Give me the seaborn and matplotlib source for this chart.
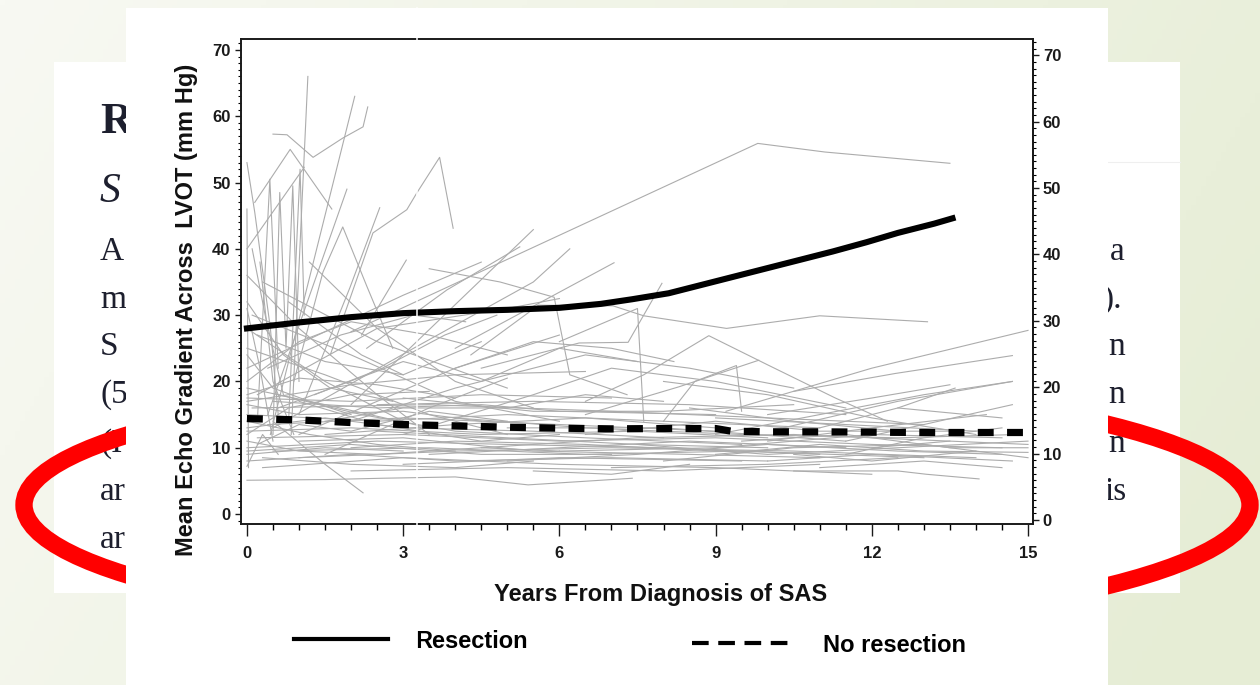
import numpy as np
import pandas as pd
import matplotlib
matplotlib.use("Agg")
import matplotlib.pyplot as plt
import seaborn as sns
from matplotlib.patches import Rectangle, Ellipse
from matplotlib.lines import Line2D
from matplotlib.ticker import MultipleLocator

# ---------------- data ----------------
res_years = [0, 1, 2, 3, 4, 5, 6, 6.8, 7.4, 8.1, 8.7, 9.3, 10, 10.6, 11.25, 11.9, 12.5, 13.2, 13.55]
res_grad = [28.0, 28.9, 29.7, 30.3, 30.6, 30.8, 31.1, 31.7, 32.4, 33.3, 34.5, 35.7, 37.1, 38.3, 39.6, 41.0, 42.4, 43.8, 44.6]

nores_years = [0, 1, 2, 3, 4, 5, 6, 7, 8, 9, 9.3, 10, 11, 12, 13, 14, 15]
nores_grad = [14.4, 14.2, 13.8, 13.5, 13.3, 13.1, 12.95, 12.85, 12.9, 12.9, 12.5, 12.4, 12.4, 12.35, 12.3, 12.3, 12.3]

# individual patient trajectories (years, gradient)
subject_paths = [
    [(0.85, 12), (1.17, 66)],
    [(0.45, 12), (2.07, 63)],
    [(0.5, 57.3), (0.77, 57.2), (1.27, 53.8), (1.84, 56.7), (2.23, 58.4), (2.32, 61.4)],
    [(0.15, 47), (0.83, 55), (1.63, 46)],
    [(0.0, 40), (1.1, 52.3)],
    [(0.0, 53), (0.15, 45.5), (0.45, 28), (0.6, 15)],
    [(0.0, 46), (0.03, 7)],
    [(0.2, 14), (0.44, 50.5), (0.6, 22)],
    [(0.5, 12), (0.63, 48.5), (0.75, 25), (0.88, 49.5), (1.0, 20)],
    [(0.8, 14), (1.02, 52), (1.1, 30)],
    [(0.4, 15), (1.92, 49)],
    [(1.0, 15), (1.98, 34.2), (2.55, 46.2)],
    [(0.9, 20), (1.46, 36.5), (1.84, 43.3), (2.3, 34.4), (2.8, 25)],
    [(1.6, 24), (2.42, 42.4), (3.07, 45.9), (3.26, 48.4), (3.7, 53.8), (3.96, 43.1)],
    [(2.3, 25), (3.84, 33.8), (5.24, 40.3)],
    [(2.2, 27), (3.06, 38.3)],
    [(2.0, 27.5), (4.86, 37.9), (9.81, 55.9), (11.1, 54.6), (13.5, 52.9)],
    [(2.0, 16.5), (5.5, 42.9)],
    [(4.0, 25), (7.05, 37.9)],
    [(4.3, 24), (5.6, 31.5), (7.03, 31.4), (7.62, 29.9), (9.21, 28), (11.0, 29.9), (13.07, 29)],
    [(9.2, 15.5), (12.0, 22), (15.0, 27.7)],
    [(10.5, 18.5), (12.45, 21.2), (14.7, 23.9)],
    [(10.3, 13), (12.5, 17), (14.7, 20)],
    [(6.5, 17), (7.62, 21), (8.87, 26.9), (10.0, 22.5), (11.3, 17.5), (12.3, 14)],
    [(8.0, 14), (8.6, 20), (9.4, 22.4), (9.5, 15.5)],
    [(6.0, 26), (7.5, 31), (7.62, 14)],
    [(4.5, 22), (6.38, 25.8), (7.32, 25.9), (7.97, 34.8)],
    [(6.5, 15), (8.3, 19.2), (9.83, 23.2)],
    [(3.5, 37), (4.86, 35), (5.9, 32.7), (6.2, 21), (7.3, 18)],
    [(0.0, 22), (3.0, 33), (4.5, 38)],
    [(0.2, 18), (2.5, 28), (5.0, 31), (6.0, 32.5)],
    [(0.5, 13), (3.2, 25), (5.5, 35), (6.2, 40)],
    [(1.0, 12), (4.0, 22), (6.0, 27)],
    [(0.0, 25), (1.5, 21), (3.5, 15), (5.0, 12)],
    [(0.1, 30), (2.0, 24), (4.0, 17), (6.0, 14)],
    [(0.3, 35), (2.5, 26), (5.0, 19)],
    [(0.0, 17), (2.0, 19.5), (4.0, 21), (6.5, 21.5)],
    [(0.6, 16), (3.0, 23), (4.5, 20), (6.0, 25), (7.5, 23)],
    [(2.0, 14), (4.0, 19), (6.5, 24), (8.5, 22), (10.5, 19)],
    [(3.0, 12), (5.5, 18), (7.0, 22), (9.0, 20), (11.5, 16)],
    [(1.5, 9), (3.5, 16), (5.0, 20.5)],
    [(0.0, 20), (1.0, 26), (2.0, 29), (3.5, 27), (5.0, 24)],
    [(4.0, 22), (5.5, 26), (7.0, 25), (8.2, 23)],
    [(0.0, 28), (1.5, 20), (3.0, 14)],
    [(0.0, 36), (1.0, 28), (2.5, 18), (3.5, 12)],
    [(1.2, 38), (2.5, 28), (4.0, 20), (5.5, 16)],
    [(0.8, 32), (2.2, 24), (3.0, 21)],
    [(9.0, 12), (11.0, 15), (13.0, 18), (14.7, 20)],
    [(10.0, 15), (12.0, 17.5), (13.5, 19.5)],
    [(11.0, 13), (12.5, 16), (13.6, 19)],
    [(12.5, 16), (14.5, 14.5)],
    [(8.0, 20), (10.0, 18), (12.0, 14.5), (14.0, 12)],
    [(10.0, 11), (12.0, 13), (14.2, 15)],
    [(11.5, 9), (13.0, 11.5), (14.5, 13)],
    [(9.0, 9), (11.0, 10.5), (13.0, 9.5), (15.0, 9.3)],
    [(10.0, 8), (12.0, 9), (14.7, 8)],
    [(12.0, 10), (13.5, 11), (15.0, 10.5)],
    [(11.0, 7), (13.0, 8), (14.5, 7)],
    [(10.5, 6.5), (12.5, 6.5), (13.05, 6.0), (14.06, 5.3)],
    [(9.0, 14.5), (11.5, 13.5), (14.0, 12.5)],
    [(0.0, 5.1), (1.5, 5.2), (2.6, 5.4), (4.0, 5.6), (5.4, 4.4), (7.4, 5.4)],
    [(0.3, 7), (3.0, 8.5), (6.0, 7.5), (9.0, 7), (12.0, 6)],
    [(0.0, 8), (2.0, 9), (4.0, 8), (7.0, 8.5), (10.0, 8)],
    [(0.5, 9.5), (3.5, 10), (6.5, 9), (9.5, 9.5), (13.0, 8.5)],
    [(0.0, 10), (2.5, 11), (5.0, 10.5), (8.0, 10), (11.0, 9)],
    [(0.2, 11.5), (3.0, 12), (6.0, 11), (9.0, 11.5), (12.0, 10.5), (14.5, 10)],
    [(0.0, 12.5), (2.0, 13), (4.5, 12), (7.5, 12.5), (10.0, 11.5)],
    [(0.4, 13.5), (3.0, 14.5), (6.0, 13.5), (9.0, 12.5)],
    [(0.0, 15), (2.5, 14), (5.0, 15), (8.0, 14), (11.0, 13)],
    [(0.1, 16), (3.5, 16.5), (7.0, 15.5), (10.0, 14.5), (13.0, 13.5)],
    [(0.0, 17.5), (2.0, 17), (4.5, 18), (7.0, 17.5)],
    [(1.0, 8.5), (4.0, 9.5), (7.0, 10), (10.5, 9.5), (14.0, 8.5)],
    [(2.0, 6.5), (5.0, 7), (8.0, 6.5), (11.0, 7.5)],
    [(0.0, 9), (1.5, 10), (3.0, 9.5)],
    [(0.6, 18), (2.2, 15), (4.0, 12.5), (6.5, 11.5), (9.5, 10.5)],
    [(0.0, 19), (1.5, 16.5), (3.5, 13)],
    [(1.5, 12), (4.0, 13.5), (6.5, 14.5), (9.0, 13)],
    [(3.0, 7.5), (6.0, 8.5), (9.5, 8)],
    [(4.5, 10), (7.5, 11.5), (10.5, 12), (13.5, 11)],
    [(5.0, 13), (8.0, 13), (11.5, 11)],
    [(6.0, 9.5), (9.0, 10), (12.0, 12), (14.5, 11.5)],
    [(7.0, 7), (10.0, 7.5), (12.5, 8.5)],
    [(0.0, 14), (1.2, 12), (2.5, 10.5), (4.0, 9.5)],
    [(0.2, 10.5), (1.0, 13.5), (2.0, 12.5), (3.5, 15.5), (5.0, 14)],
    [(8.5, 16), (10.5, 14), (12.5, 12.5)],
    [(2.5, 16.5), (5.5, 17), (8.5, 16.5), (11.5, 15)],
    [(0.5, 14), (1.5, 7.5), (2.23, 3.2)],
    [(0.0, 7.2), (0.3, 12), (0.6, 9)],
    [(0.0, 11), (1.0, 9.5), (2.5, 9), (4.5, 10), (6.0, 9.5)],
    [(0.0, 13), (1.5, 14.5), (3.0, 13), (5.5, 12.5), (8.0, 11.5)],
    [(0.3, 8.5), (2.0, 7.5), (4.0, 7), (5.5, 8)],
    [(1.0, 11), (3.0, 11.5), (5.5, 9.5), (8.5, 9), (11.0, 8.5)],
    [(2.0, 10), (4.0, 11), (6.5, 10.5), (9.0, 9.5)],
    [(0.0, 16.5), (1.0, 15), (3.0, 15.5), (4.5, 14)],
    [(0.5, 17), (2.5, 16), (4.5, 16.5), (6.0, 15.5), (9.0, 15)],
    [(3.5, 9), (6.0, 10), (8.5, 11), (11.5, 10)],
    [(4.0, 14.5), (6.5, 13), (9.5, 12), (12.5, 11.5), (14.8, 12)],
    [(5.0, 8), (7.5, 9), (10.0, 10.5), (12.5, 9.5), (14.5, 9)],
    [(6.5, 12), (9.0, 14), (11.0, 12.5), (13.5, 12.5)],
    [(7.5, 10.5), (10.0, 9), (12.5, 10), (15.0, 11)],
    [(8.0, 8), (10.5, 10), (13.0, 10.5), (15.0, 8.5)],
    [(0.0, 12), (0.8, 16), (2.0, 18), (3.5, 18.5)],
    [(0.0, 9.5), (2.0, 10.5), (4.5, 9), (7.0, 9)],
    [(1.5, 14), (3.0, 16), (5.0, 16), (6.5, 18), (8.0, 17)],
    [(2.5, 12.5), (5.0, 11.5), (7.5, 10.5), (10.0, 10)],
    [(3.0, 17.5), (5.5, 15.5), (8.0, 15.5), (10.5, 16.5)],
    [(0.0, 18), (1.0, 20.5), (2.5, 19.5), (4.0, 17.5)],
    [(1.0, 17), (2.5, 13.5), (4.5, 11), (6.0, 12)],
    [(5.5, 6.5), (7.0, 6), (8.5, 7.5)],
    [(9.5, 11), (11.5, 12), (13.5, 10), (15.0, 10)],
    [(10.5, 9), (12.0, 8), (14.0, 9.5)],
    [(11.5, 11), (13.0, 13.5), (14.7, 16.5)],
    [(0.2, 27), (1.5, 23), (3.0, 21), (4.5, 26)],
    [(0.0, 32), (0.7, 24), (1.6, 19), (2.8, 17)],
    [(0.4, 22), (1.8, 27), (3.2, 30), (4.2, 29)],
    [(1.3, 18), (2.6, 22), (3.8, 27), (4.8, 30)],
    [(0.0, 24), (0.5, 19), (1.2, 17), (2.0, 15)],
    [(0.1, 40), (0.35, 30), (0.7, 18)],
    [(0.25, 38), (0.5, 20), (0.9, 12)],
    [(0.0, 31), (0.25, 22), (0.5, 11)],
]

x_ticks = [0, 3, 6, 9, 12, 15]
y_ticks = [0, 10, 20, 30, 40, 50, 60, 70]
x_label = "Years From Diagnosis of SAS"
y_label = "Mean Echo Gradient Across  LVOT (mm Hg)"
legend_labels = ["Resection", "No resection"]

slide_left_fragments = ["R", "S", "A", "m", "S", "(5", "(I", "ar", "ar"]
slide_right_fragments = ["a", ").", "n", "n", "n", "is"]

# ---------------- figure ----------------
W, H = 1260, 685
plt.rcParams["font.family"] = ["Liberation Sans", "DejaVu Sans"]
fig = plt.figure(figsize=(12.6, 6.85), dpi=100)

# slide background layer (pixel coordinates)
bg = fig.add_axes([0, 0, 1, 1], zorder=0)
bg.set_xlim(0, W)
bg.set_ylim(H, 0)
bg.axis("off")
gx, gy = np.meshgrid(np.linspace(0, 1, 256), np.linspace(0, 1, 140))
t = np.clip(0.8 * gx + 0.25 * gy, 0, 1)
c0 = np.array([248, 249, 243]) / 255
c1 = np.array([230, 237, 213]) / 255
img = c0[None, None, :] * (1 - t[..., None]) + c1[None, None, :] * t[..., None]
bg.imshow(img, extent=[0, W, H, 0], aspect="auto", zorder=0)
bg.add_patch(Rectangle((54, 62), 1126, 531, fc="white", ec="none", zorder=1))
bg.plot([1108, 1180], [162, 162], color="#efefef", lw=0.8, zorder=1.5)

left_base = [133, 202, 260, 308, 355, 403, 452, 500, 548]
left_size = [32, 30, 24, 24, 24, 24, 24, 24, 24]
left_style = ["normal", "italic"] + ["normal"] * 7
left_weight = ["bold"] + ["normal"] * 8
for frag, yb, fs, st, wt in zip(slide_left_fragments, left_base, left_size, left_style, left_weight):
    bg.text(100, yb, frag, fontsize=fs, style=st, fontweight=wt,
            family=["Liberation Serif", "DejaVu Serif"],
            color="#1d1f2e", ha="left", va="baseline", zorder=2)
right_base = [260, 308, 355, 403, 452, 500]
right_x = [1110, 1103, 1108, 1108, 1108, 1104]
for frag, yb, xx in zip(slide_right_fragments, right_base, right_x):
    bg.text(xx, yb, frag, fontsize=24, family=["Liberation Serif", "DejaVu Serif"],
            color="#1d1f2e", ha="left", va="baseline", zorder=2)

bg.add_patch(Ellipse((637, 505), 1226, 252, fill=False, ec="#ff0000", lw=12.5, zorder=3))
bg.add_patch(Rectangle((126, 8), 982, 677, fc="white", ec="none", zorder=4))

# ---------------- chart ----------------
ax = fig.add_axes([240.7 / W, (H - 524) / H, 792 / W, 484.7 / H], zorder=1)
ax.set_facecolor("white")

rows = []
for sid, path in enumerate(subject_paths):
    for yr, gr in path:
        rows.append({"subject": sid, "year": yr, "gradient": gr})
df = pd.DataFrame(rows)

sns.lineplot(data=df, x="year", y="gradient", units="subject", estimator=None,
             sort=False, color="#acacac", lw=0.8, ax=ax, legend=False)
sns.lineplot(x=res_years, y=res_grad, color="black", lw=4.4, ax=ax, legend=False)
ax.lines[-1].set_solid_joinstyle("round")
sns.lineplot(x=nores_years, y=nores_grad, color="black", lw=5.2, ax=ax, legend=False)
ax.lines[-1].set_dashes([2.2, 1.85])
ax.lines[-1].set_dash_capstyle("butt")

ax.set_xlim(-0.12, 15.09)
ax.set_ylim(-1.5, 71.6)
ax.set_xticks(x_ticks)
ax.set_yticks(y_ticks)
ax.xaxis.set_minor_locator(MultipleLocator(0.5))
ax.yaxis.set_minor_locator(MultipleLocator(1))
ax.tick_params(axis="x", which="major", direction="out", length=8.5, width=1.0, pad=7,
               labelsize=12, colors="#1a1a1a")
ax.tick_params(axis="x", which="minor", direction="out", length=4.5, width=1.0)
ax.tick_params(axis="y", which="major", direction="out", length=4.3, width=1.0, pad=3,
               labelsize=12, colors="#1a1a1a")
ax.tick_params(axis="y", which="minor", direction="out", length=2.4, width=0.8)
for lab in ax.get_xticklabels() + ax.get_yticklabels():
    lab.set_fontweight("bold")
for sp in ax.spines.values():
    sp.set_linewidth(1.4)
    sp.set_color("#1a1a1a")

ax.set_xlabel(x_label, fontsize=17, fontweight="bold", color="#111111")
ax.set_ylabel(y_label, fontsize=17, fontweight="bold", color="#111111")
ax.xaxis.label.set_va("center")
ax.yaxis.label.set_va("center")
ax.xaxis.set_label_coords((661 - 240.7) / 792, (524 - 594) / 484.7)
ax.yaxis.set_label_coords((186 - 240.7) / 792, (524 - 310) / 484.7)

ax2 = ax.twinx()
ax2.set_ylim(-0.6, 72.4)
ax2.set_yticks(y_ticks)
ax2.yaxis.set_minor_locator(MultipleLocator(1))
ax2.tick_params(axis="y", which="major", direction="out", length=4.3, width=1.0, pad=3,
                labelsize=12, colors="#1a1a1a")
ax2.tick_params(axis="y", which="minor", direction="out", length=2.4, width=0.8)
for lab in ax2.get_yticklabels():
    lab.set_fontweight("bold")
for name, sp in ax2.spines.items():
    sp.set_visible(name == "right")
    sp.set_linewidth(1.4)
    sp.set_color("#1a1a1a")

# legend (two separated entries)
h_res = Line2D([], [], color="black", lw=3.0)
h_nores = Line2D([], [], color="black", lw=3.0, dashes=[4.0, 2.3])
leg1 = fig.legend([h_res], [legend_labels[0]], loc="center left",
                  bbox_to_anchor=(294 / W, 1 - 641 / H), frameon=False,
                  handlelength=4.0, handletextpad=1.15, borderpad=0, borderaxespad=0,
                  prop={"size": 17, "weight": "bold"})
leg2 = fig.legend([h_nores], [legend_labels[1]], loc="center left",
                  bbox_to_anchor=(692 / W, 1 - 645 / H), frameon=False,
                  handlelength=4.1, handletextpad=1.45, borderpad=0, borderaxespad=0,
                  prop={"size": 17, "weight": "bold"})

# scan seam over the chart picture
ov = fig.add_axes([0, 0, 1, 1], zorder=6)
ov.set_xlim(0, W)
ov.set_ylim(H, 0)
ov.axis("off")
ov.patch.set_alpha(0)
ov.plot([416.5, 416.5], [8, 685], color="white", lw=1.1)

fig.savefig("out.png", dpi=100)
